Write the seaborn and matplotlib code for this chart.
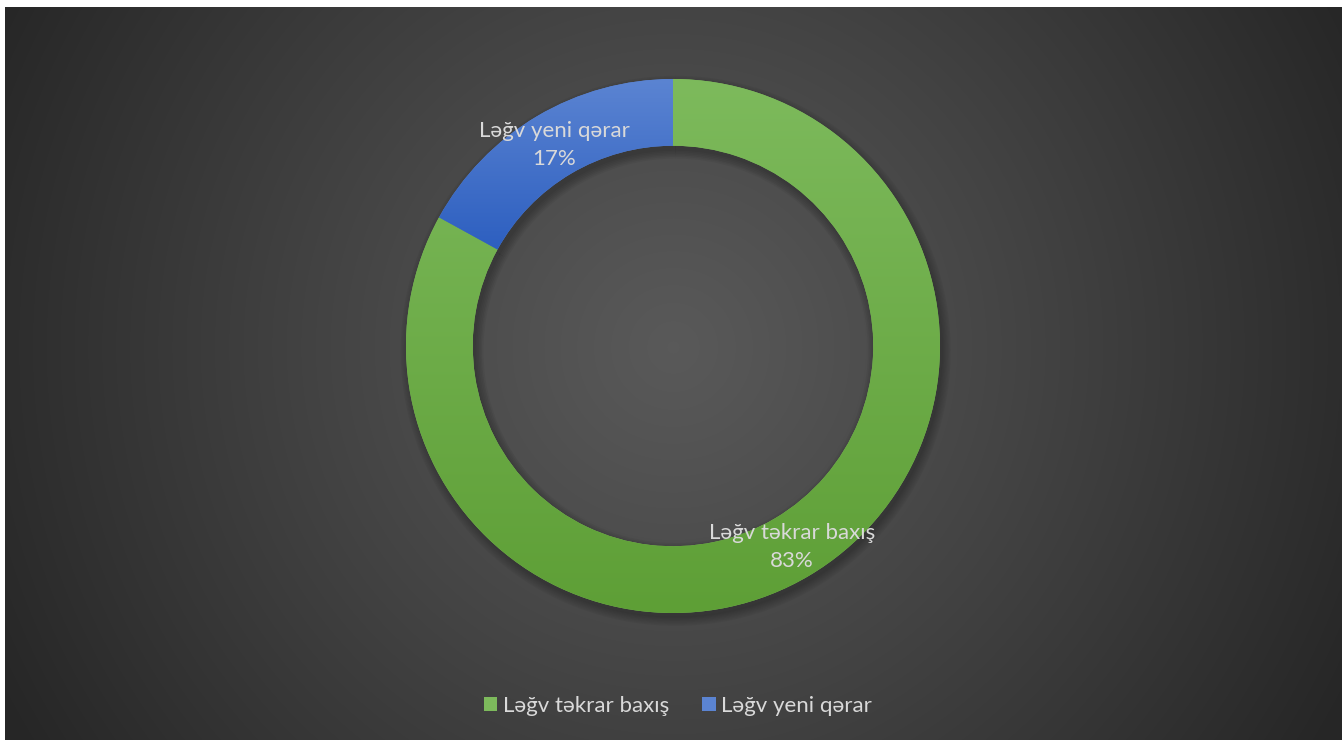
import numpy as np
import matplotlib
matplotlib.use("Agg")
import matplotlib.pyplot as plt
from matplotlib.patches import Patch
import seaborn as sns

# data
categories = ["Ləğv təkrar baxış", "Ləğv yeni qərar"]
values = [83, 17]
colors_top = ["#7dba5c", "#5b84d2"]
colors_bottom = ["#5e9f36", "#2d5fc0"]

sns.set_theme(style="dark")
plt.rcParams['font.family'] = ['Lato', 'DejaVu Sans']
text_color = "#d9d9d9"

W, H = 1342, 740
fig = plt.figure(figsize=(W / 100, H / 100), dpi=100, facecolor="white")

# background with radial gradient (white strip at top / left like the source)
bg = fig.add_axes([5 / W, 0, 1 - 5 / W, 1 - 7 / H])
bg.set_axis_off()
yy, xx = np.mgrid[0:733, 0:1337]
cx, cy = 668, 340
r = np.sqrt((xx - cx) ** 2 + (yy - cy) ** 2) / 760
r = np.clip(r, 0, 1)
shade = 0.35 - 0.2 * r ** 1.1
bg.imshow(np.dstack([shade] * 3), aspect="auto", extent=[0, 1, 0, 1], interpolation="bilinear")
bg.set_xlim(0, 1)
bg.set_ylim(0, 1)

# donut
R = 267
ax = fig.add_axes([(673 - R) / W, (H - 346 - R) / H, 2 * R / W, 2 * R / H])
ax.set_axis_off()
ax.patch.set_alpha(0)

# soft shadow
for k in range(6):
    ax.pie(values, startangle=90, counterclock=False, radius=1.0 + 0.006 * k,
           colors=["black"] * 2,
           wedgeprops=dict(width=0.25 + 0.012 * k, linewidth=0, alpha=0.045),
           center=(0.01, -0.018))

wedges, _ = ax.pie(values, startangle=90, counterclock=False, radius=1.0,
                   colors=colors_top, wedgeprops=dict(width=0.25, linewidth=0))

# vertical gradient fill for each wedge, over its own bounding box
grad = np.linspace(0, 1, 256)[:, None]
for w, ct, cb in zip(wedges, colors_top, colors_bottom):
    c1 = np.array(matplotlib.colors.to_rgb(ct))
    c2 = np.array(matplotlib.colors.to_rgb(cb))
    img = c1[None, None, :] * (1 - grad[..., None]) + c2[None, None, :] * grad[..., None]
    img = np.repeat(img, 2, axis=1)
    ext = w.get_path().get_extents()
    im = ax.imshow(img, extent=[ext.x0, ext.x1, ext.y0, ext.y1], origin="upper",
                   aspect="auto", zorder=w.get_zorder() + 0.1)
    im.set_clip_path(w)

total = sum(values)
for w, name, v in zip(wedges, categories, values):
    ang = np.deg2rad((w.theta1 + w.theta2) / 2)
    rr = 0.875
    ax.text(rr * np.cos(ang), rr * np.sin(ang), f"{name}\n{v / total * 100:.0f}%",
            ha="center", va="center", color=text_color, fontsize=16,
            linespacing=1.5, zorder=10)

ax.set_xlim(-1, 1)
ax.set_ylim(-1, 1)

handles = [Patch(facecolor=c, edgecolor="none") for c in colors_top]
fig.legend(handles, categories, loc="center", bbox_to_anchor=(678 / W, 1 - 706 / H),
           ncol=2, frameon=False, fontsize=16, labelcolor=text_color,
           handlelength=0.6, handleheight=0.6, handletextpad=0.25, columnspacing=1.5)

fig.savefig("out.png", dpi=100, facecolor=fig.get_facecolor())
